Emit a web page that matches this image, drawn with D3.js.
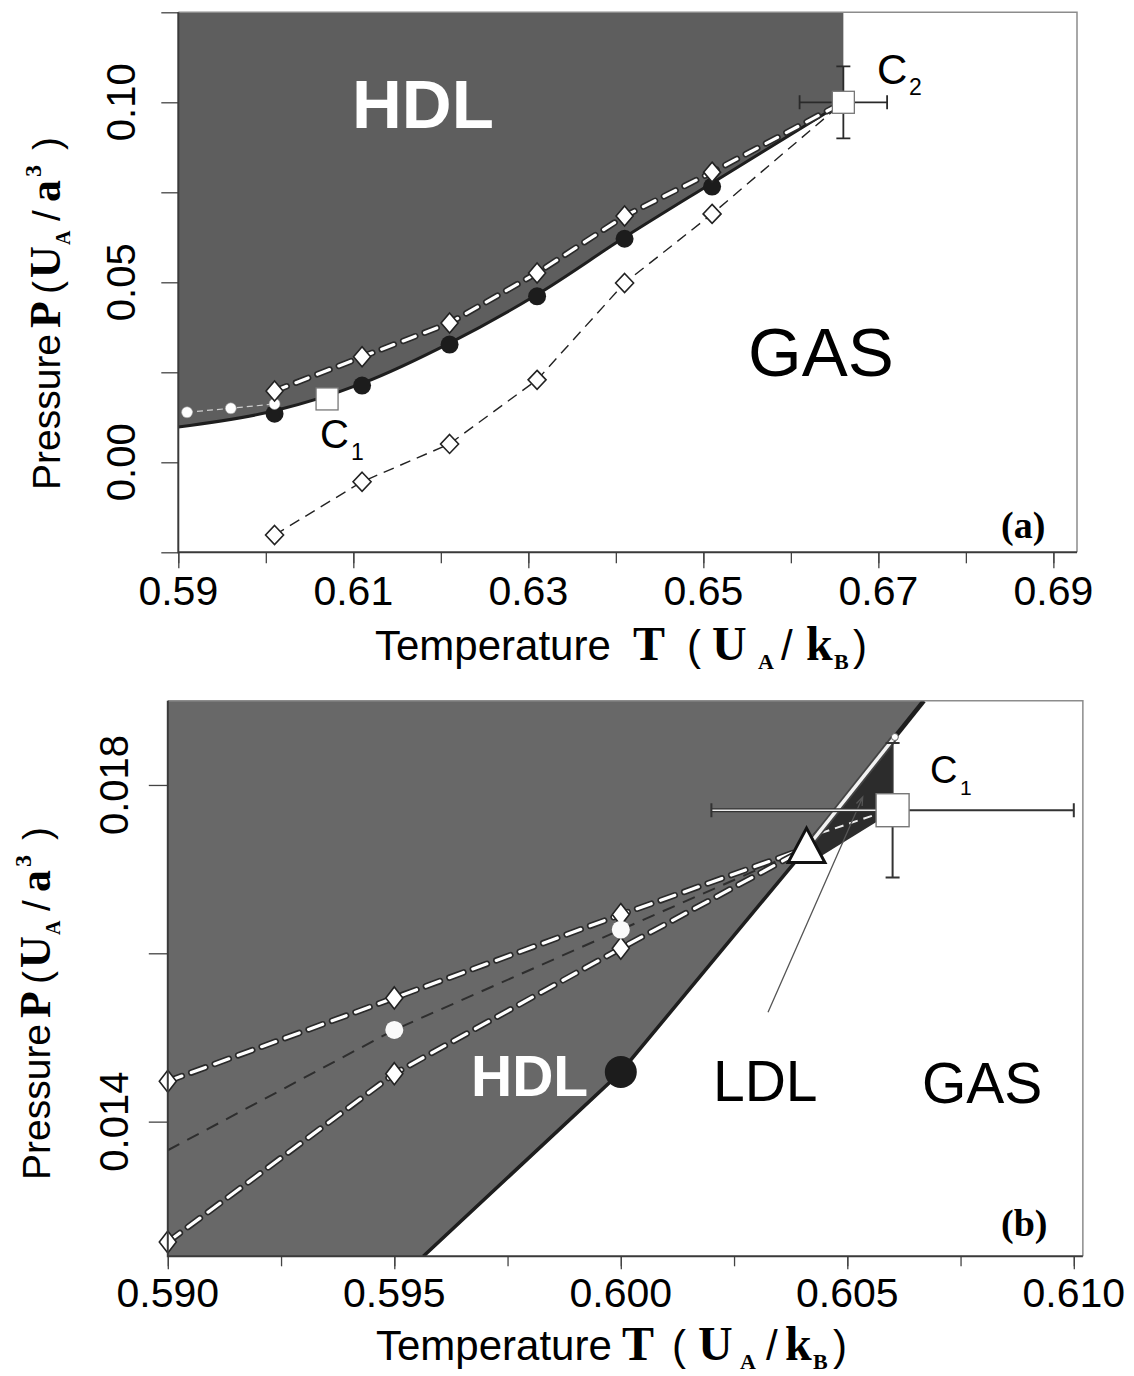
<!DOCTYPE html>
<html><head><meta charset="utf-8">
<script src="https://cdn.jsdelivr.net/npm/d3@7"></script>
<style>
html,body{margin:0;padding:0;background:#fff;}
svg{display:block;}
</style></head><body>
<svg id="chart" width="1134" height="1376"></svg>
<script>
// ---------------- DATA: panel (a) ----------------
const A_T_TICKS = [0.59,0.60,0.61,0.62,0.63,0.64,0.65,0.66,0.67,0.68,0.69];
const A_T_LABELS = [0.59,0.61,0.63,0.65,0.67,0.69];
const A_P_TICKS = [-0.025,0,0.025,0.05,0.075,0.10,0.125];
const A_P_LABELS = [0,0.05,0.10];
// HDL-gas coexistence boundary (solid line)
const A_BOUND_T = [0.590,0.601,0.611,0.621,0.631,0.641,0.651,0.666];
const A_BOUND_P = [0.0098,0.0143,0.0219,0.0331,0.0466,0.0625,0.0776,0.100];
// filled circles
const A_FILL_T = [0.601,0.611,0.621,0.631,0.641,0.651];
const A_FILL_P = [0.0135,0.0213,0.0327,0.0461,0.0621,0.0766];
// upper open diamonds (white dashed line)
const A_UP_T = [0.601,0.611,0.621,0.631,0.641,0.651];
const A_UP_P = [0.0198,0.0293,0.0387,0.0526,0.0684,0.0806];
// lower open diamonds (black dashed line)
const A_LO_T = [0.601,0.611,0.621,0.631,0.641,0.651];
const A_LO_P = [-0.0202,-0.0054,0.0051,0.0229,0.0498,0.0690];
// small open circles
const A_OC_T = [0.591,0.596,0.601];
const A_OC_P = [0.0139,0.0150,0.0162];
// critical points [T, P, dT, dP]
const A_C1 = [0.607,0.0176];
const A_C2 = [0.666,0.100,0.005,0.010];

// ---------------- DATA: panel (b) ----------------
const B_T_TICKS = [0.590,0.5925,0.595,0.5975,0.600,0.6025,0.605,0.6075,0.610];
const B_T_LABELS = [0.590,0.595,0.600,0.605,0.610];
const B_P_TICKS = [0.014,0.016,0.018];
const B_P_LABELS = [0.014,0.018];
// HDL-gas boundary (solid), continuing as HDL-LDL line above triple point
const B_BOUND_T = [0.59564,0.6000,0.6041,0.60605,0.60669];
const B_BOUND_P = [0.0124,0.01459,0.01725,0.01857,0.0190];
// triple point
const B_TRIPLE = [0.6041,0.01725];
// LDL region outline
const B_LDL_T = [0.6042,0.6060,0.6060,0.60565,0.6044];
const B_LDL_P = [0.01739,0.01851,0.01770,0.017564,0.017148];
// upper diamonds
const B_UP_T = [0.590,0.595,0.600];
const B_UP_P = [0.01448,0.01547,0.01646];
// lower diamonds
const B_LO_T = [0.590,0.595,0.600];
const B_LO_P = [0.01257,0.01457,0.01606];
// open circles on dark dashed line (line starts at the axis)
const B_MID_T = [0.590,0.595,0.600];
const B_MID_P = [0.01366,0.01509,0.01628];
// filled circle on boundary
const B_FILL = [0.600,0.01459];
// LDL-gas dashed segment to C1
const B_LG_T = [0.6041,0.6058];
const B_LG_P = [0.01737,0.01768];
// C1 critical point [T, P, dT, dP]
const B_C1 = [0.6060,0.01770,0.004,0.0008];
// LDL pointer (from label into region)
const B_PTR_T = [0.60325,0.60534];
const B_PTR_P = [0.01530,0.017857];

// ---------------- helpers ----------------
const SANS = '"Liberation Sans", Arial, Helvetica, sans-serif';
const SERIF = '"Liberation Serif", "Times New Roman", serif';
const svg = d3.select("#chart");
const zip = (a,b) => a.map((v,i)=>[v,b[i]]);
const diamond = (w,h) => `M0,${-h}L${w},0L0,${h}L${-w},0Z`;

function rich(parent, x0, y0, segs){
  const t = parent.append("text").attr("fill","#000");
  segs.forEach(s=>{
    t.append("tspan")
      .attr("x", x0 + s.dx).attr("y", y0 + (s.dy||0))
      .attr("font-family", s.serif ? SERIF : SANS)
      .attr("font-weight", s.serif || s.bold ? "bold" : "normal")
      .attr("font-size", s.size)
      .text(s.t);
  });
  return t;
}
function label(parent, x, y, str, size, opts={}){
  return parent.append("text").attr("x",x).attr("y",y)
    .attr("font-family", opts.serif?SERIF:SANS)
    .attr("font-weight", opts.bold?"bold":"normal")
    .attr("font-size", size).attr("fill", opts.fill||"#000")
    .attr("text-anchor", opts.anchor||"start")
    .text(str);
}
function dashedDouble(g, line, pts, dash){
  g.append("path").attr("d", line(pts)).attr("fill","none")
    .attr("stroke","#2a2a2a").attr("stroke-width",6.5)
    .attr("stroke-linecap","round").attr("stroke-dasharray",dash);
  g.append("path").attr("d", line(pts)).attr("fill","none")
    .attr("stroke","#fff").attr("stroke-width",3.2)
    .attr("stroke-linecap","round").attr("stroke-dasharray",dash);
}
function styleAxis(g){
  g.select(".domain").remove();
  g.selectAll(".tick line").attr("stroke","#444").attr("stroke-width",1.3);
}

// ======================= PANEL (a) =======================
const ax = d3.scaleLinear().domain([0.59,0.6927]).range([178.3,1077]);
const ay = d3.scaleLinear().domain([-0.025,0.125]).range([552.3,12.3]);
const A = svg.append("g");
A.append("clipPath").attr("id","clipA").append("rect")
  .attr("x",ax.range()[0]).attr("y",ay.range()[1])
  .attr("width",ax.range()[1]-ax.range()[0]).attr("height",ay.range()[0]-ay.range()[1]);
const Ac = A.append("g").attr("clip-path","url(#clipA)");

const aLine = d3.line().x(d=>ax(d[0])).y(d=>ay(d[1]));
const aCurve = d3.line().x(d=>ax(d[0])).y(d=>ay(d[1])).curve(d3.curveMonotoneX);
const aBound = zip(A_BOUND_T, A_BOUND_P);

// HDL gray region
Ac.append("path")
  .attr("d", d3.area().x(d=>ax(d[0])).y0(ay(0.125)).y1(d=>ay(d[1])).curve(d3.curveMonotoneX)(aBound))
  .attr("fill","#5e5e5e");

// frame
A.append("path").attr("d",`M${ax.range()[0]},${ay.range()[1]}H${ax.range()[1]}V${ay.range()[0]}`)
  .attr("fill","none").attr("stroke","#8c8c8c").attr("stroke-width",1.5);

// boundary solid line
Ac.append("path").attr("d", aCurve(aBound)).attr("fill","none")
  .attr("stroke","#1e1e1e").attr("stroke-width",3);

// faint line through small open circles
Ac.append("path").attr("d", aLine(zip(A_OC_T,A_OC_P))).attr("fill","none")
  .attr("stroke","#cfcfcf").attr("stroke-width",1.2).attr("stroke-dasharray","6,4");

// lower black dashed line
Ac.append("path").attr("d", aLine(zip(A_LO_T,A_LO_P).concat([[A_C2[0],A_C2[1]]]))).attr("fill","none")
  .attr("stroke","#222").attr("stroke-width",1.4).attr("stroke-dasharray","11,7");

// upper white double dashed line
dashedDouble(Ac, aLine, zip(A_UP_T,A_UP_P).concat([[A_C2[0],A_C2[1]]]), "13,10");

// filled circles
Ac.selectAll(".fc").data(zip(A_FILL_T,A_FILL_P)).join("circle")
  .attr("cx",d=>ax(d[0])).attr("cy",d=>ay(d[1])).attr("r",9).attr("fill","#1c1c1c");
// small open circles
Ac.selectAll(".oc").data(zip(A_OC_T,A_OC_P)).join("circle")
  .attr("cx",d=>ax(d[0])).attr("cy",d=>ay(d[1])).attr("r",5.5)
  .attr("fill","#fff").attr("stroke","#999").attr("stroke-width",0.6);
// upper diamonds
Ac.selectAll(".ud").data(zip(A_UP_T,A_UP_P)).join("path")
  .attr("transform",d=>`translate(${ax(d[0])},${ay(d[1])})`).attr("d",diamond(8.5,10))
  .attr("fill","#fff").attr("stroke","#222").attr("stroke-width",1.6);
// lower diamonds
Ac.selectAll(".ld").data(zip(A_LO_T,A_LO_P)).join("path")
  .attr("transform",d=>`translate(${ax(d[0])},${ay(d[1])})`).attr("d",diamond(9,9.5))
  .attr("fill","#fff").attr("stroke","#222").attr("stroke-width",1.6);

// C1 square
A.append("rect").attr("x",ax(A_C1[0])-11).attr("y",ay(A_C1[1])-11).attr("width",22).attr("height",22)
  .attr("fill","#fff").attr("stroke","#777").attr("stroke-width",1.3);

// C2 error bars + square
{
  const cx = ax(A_C2[0]), cy = ay(A_C2[1]);
  const x1 = ax(A_C2[0]-A_C2[2]), x2 = ax(A_C2[0]+A_C2[2]);
  const y1 = ay(A_C2[1]+A_C2[3]), y2 = ay(A_C2[1]-A_C2[3]);
  const e = A.append("g").attr("stroke","#2a2a2a").attr("stroke-width",1.8).attr("fill","none");
  e.append("path").attr("d",`M${x1},${cy}H${x2}M${x1},${cy-7}V${cy+7}M${x2},${cy-7}V${cy+7}`);
  e.append("path").attr("d",`M${cx},${y1}V${y2}M${cx-7},${y1}H${cx+7}M${cx-7},${y2}H${cx+7}`);
  A.append("rect").attr("x",cx-11).attr("y",cy-11).attr("width",22).attr("height",22)
    .attr("fill","#fff").attr("stroke","#777").attr("stroke-width",1.3);
}

// labels
label(A,352,128,"HDL",69,{bold:true,fill:"#fff"});
label(A,748,376,"GAS",69);
rich(A,320,448,[{t:"C",dx:0,size:40},{t:"1",dx:31,dy:12,size:23}]);
rich(A,877,84,[{t:"C",dx:0,size:42},{t:"2",dx:32,dy:11,size:23}]);
label(A,1001,538,"(a)",38,{serif:true,bold:true});

// axes
styleAxis(A.append("g").attr("transform",`translate(0,${ay.range()[0]})`)
  .call(d3.axisBottom(ax).tickValues(A_T_TICKS).tickSize(11).tickFormat("")));
styleAxis(A.append("g").attr("transform",`translate(0,${ay.range()[0]})`)
  .call(d3.axisBottom(ax).tickValues(A_T_LABELS).tickSize(16).tickFormat("")));
styleAxis(A.append("g").attr("transform",`translate(${ax.range()[0]},0)`)
  .call(d3.axisLeft(ay).tickValues(A_P_TICKS).tickSize(17).tickFormat("")));
A.append("path").attr("d",`M${ax.range()[0]},${ay.range()[1]}V${ay.range()[0]}H${ax.range()[1]}`)
  .attr("fill","none").attr("stroke","#3a3a3a").attr("stroke-width",2);
A.selectAll(".xl").data(A_T_LABELS).join("text")
  .attr("x",d=>ax(d)).attr("y",605).attr("text-anchor","middle")
  .attr("font-family",SANS).attr("font-size",41).text(d3.format(".2f"));
A.selectAll(".yl").data(A_P_LABELS).join("text")
  .attr("transform",d=>`translate(135,${ay(d)}) rotate(-90)`).attr("text-anchor","middle")
  .attr("font-family",SANS).attr("font-size",40).text(d3.format(".2f"));

const X_TITLE = (x0)=>[
  {t:"Temperature",dx:0,size:42},
  {t:"T",dx:x0[0],serif:true,size:48},
  {t:"(",dx:x0[1],size:42},
  {t:"U",dx:x0[2],serif:true,size:48},
  {t:"A",dx:x0[3],dy:9,serif:true,size:22},
  {t:"/",dx:x0[4],size:42},
  {t:"k",dx:x0[5],serif:true,size:48},
  {t:"B",dx:x0[6],dy:9,serif:true,size:22},
  {t:")",dx:x0[7],size:42}];
const Y_TITLE = [
  {t:"Pressure",dx:0,size:39},
  {t:"P",dx:162,serif:true,size:44},
  {t:"(",dx:196,size:39},
  {t:"U",dx:212,serif:true,size:44},
  {t:"A",dx:245,dy:10,serif:true,size:20},
  {t:"/",dx:269,size:39},
  {t:"a",dx:288,serif:true,size:44},
  {t:"3",dx:313,dy:-19,serif:true,size:24},
  {t:")",dx:340,size:39}];

rich(A,375,660,X_TITLE([258,312,337,383,406,431,459,478]));
rich(A.append("g").attr("transform","translate(60,490) rotate(-90)"),0,0,Y_TITLE);

// ======================= PANEL (b) =======================
const bx = d3.scaleLinear().domain([0.59,0.6102]).range([167.8,167.8+0.0202*45300]);
const by = d3.scaleLinear().domain([0.0124,0.0190]).range([1256.3,1256.3-0.0066*84167]);
const B = svg.append("g");
B.append("clipPath").attr("id","clipB").append("rect")
  .attr("x",bx.range()[0]).attr("y",by.range()[1])
  .attr("width",bx.range()[1]-bx.range()[0]).attr("height",by.range()[0]-by.range()[1]);
const Bc = B.append("g").attr("clip-path","url(#clipB)");
const bLine = d3.line().x(d=>bx(d[0])).y(d=>by(d[1]));
const bBound = zip(B_BOUND_T,B_BOUND_P);

// HDL gray region
Bc.append("path")
  .attr("d", bLine([[0.59,0.0124]].concat(bBound,[[0.59,0.0190]]))+"Z")
  .attr("fill","#686868");
// LDL dark region
Bc.append("path").attr("d", bLine(zip(B_LDL_T,B_LDL_P))+"Z").attr("fill","#2c2c2c");

// frame
B.append("path").attr("d",`M${bx.range()[0]},${by.range()[1]}H${bx.range()[1]}V${by.range()[0]}`)
  .attr("fill","none").attr("stroke","#8c8c8c").attr("stroke-width",1.5);

// middle dark dashed line
Bc.append("path").attr("d", bLine(zip(B_MID_T,B_MID_P).concat([B_TRIPLE]))).attr("fill","none")
  .attr("stroke","#2e2e2e").attr("stroke-width",2).attr("stroke-dasharray","13,9");
// upper & lower white double dashed lines
dashedDouble(Bc, bLine, zip(B_UP_T,B_UP_P).concat([B_TRIPLE]), "15,10");
dashedDouble(Bc, bLine, zip(B_LO_T,B_LO_P).concat([B_TRIPLE]), "15,10");
// LDL-gas dashed
Bc.append("path").attr("d", bLine(zip(B_LG_T,B_LG_P))).attr("fill","none")
  .attr("stroke","#eee").attr("stroke-width",2).attr("stroke-dasharray","9,6");

// boundary lines
Bc.append("path").attr("d", bLine(bBound.slice(0,3))).attr("fill","none")
  .attr("stroke","#1e1e1e").attr("stroke-width",3.5);
Bc.append("path").attr("d", bLine(bBound.slice(3))).attr("fill","none")
  .attr("stroke","#1e1e1e").attr("stroke-width",4.5);
Bc.append("path").attr("d", bLine(bBound.slice(2,4))).attr("fill","none")
  .attr("stroke","#444").attr("stroke-width",7);
Bc.append("path").attr("d", bLine(bBound.slice(2,4))).attr("fill","none")
  .attr("stroke","#f2f2f2").attr("stroke-width",3.5);
B.append("circle").attr("cx",bx(B_BOUND_T[3])).attr("cy",by(B_BOUND_P[3])).attr("r",3.5)
  .attr("fill","#fff").attr("stroke","#666").attr("stroke-width",1);

// filled circle
B.append("circle").attr("cx",bx(B_FILL[0])).attr("cy",by(B_FILL[1])).attr("r",16).attr("fill","#1c1c1c");
// diamonds
B.selectAll(".bd").data(zip(B_UP_T,B_UP_P).concat(zip(B_LO_T,B_LO_P))).join("path")
  .attr("transform",d=>`translate(${bx(d[0])},${by(d[1])})`).attr("d",diamond(8.5,11))
  .attr("fill","#fff").attr("stroke","#222").attr("stroke-width",1.6);
// open circles
B.selectAll(".bo").data(zip(B_MID_T,B_MID_P).slice(1)).join("circle")
  .attr("cx",d=>bx(d[0])).attr("cy",d=>by(d[1])).attr("r",9).attr("fill","#fafafa");

// LDL pointer
{
  const x1=bx(B_PTR_T[0]), y1=by(B_PTR_P[0]), x2=bx(B_PTR_T[1]), y2=by(B_PTR_P[1]);
  const ang=Math.atan2(y2-y1,x2-x1), L=9;
  B.append("path").attr("d",`M${x1},${y1}L${x2},${y2}`+
    `M${x2-L*Math.cos(ang-0.35)},${y2-L*Math.sin(ang-0.35)}L${x2},${y2}L${x2-L*Math.cos(ang+0.35)},${y2-L*Math.sin(ang+0.35)}`)
    .attr("fill","none").attr("stroke","#555").attr("stroke-width",1.3);
}

// C1 error bars + square
{
  const cx=bx(B_C1[0]), cy=by(B_C1[1]);
  const x1=bx(B_C1[0]-B_C1[2]), x2=bx(B_C1[0]+B_C1[2]);
  const y1=by(B_C1[1]+B_C1[3]), y2=by(B_C1[1]-B_C1[3]);
  const e=B.append("g").attr("fill","none");
  e.append("path").attr("d",`M${x1},${cy}H${cx}`).attr("stroke","#333").attr("stroke-width",4);
  e.append("path").attr("d",`M${x1},${cy}H${cx}`).attr("stroke","#eee").attr("stroke-width",1.6);
  e.append("path").attr("d",`M${cx},${cy}H${x2}M${x1},${cy-7}V${cy+7}M${x2},${cy-7}V${cy+7}`)
    .attr("stroke","#333").attr("stroke-width",2);
  e.append("path").attr("d",`M${cx},${y1}V${y2}M${cx-7},${y1}H${cx+7}M${cx-7},${y2}H${cx+7}`)
    .attr("stroke","#333").attr("stroke-width",2);
  B.append("rect").attr("x",cx-16.5).attr("y",cy-16.5).attr("width",33).attr("height",33)
    .attr("fill","#fff").attr("stroke","#777").attr("stroke-width",1.4);
}
// triple point triangle
{
  const cx=bx(B_TRIPLE[0]), cy=by(B_TRIPLE[1])+3, s=11.5;
  B.append("path").attr("d",`M${cx},${cy-2*s}L${cx+1.6*s},${cy+s}L${cx-1.6*s},${cy+s}Z`)
    .attr("fill","#fff").attr("stroke","#111").attr("stroke-width",3).attr("stroke-linejoin","miter");
}

// labels
label(B,471,1096,"HDL",57,{bold:true,fill:"#fff"});
label(B,713,1101,"LDL",57);
label(B,922,1103,"GAS",57);
rich(B,930,783,[{t:"C",dx:0,size:38},{t:"1",dx:30,dy:12,size:21}]);
label(B,1001,1236,"(b)",38,{serif:true,bold:true});

// axes
styleAxis(B.append("g").attr("transform",`translate(0,${by.range()[0]})`)
  .call(d3.axisBottom(bx).tickValues(B_T_TICKS).tickSize(10).tickFormat("")));
styleAxis(B.append("g").attr("transform",`translate(0,${by.range()[0]})`)
  .call(d3.axisBottom(bx).tickValues(B_T_LABELS).tickSize(13).tickFormat("")));
styleAxis(B.append("g").attr("transform",`translate(${bx.range()[0]},0)`)
  .call(d3.axisLeft(by).tickValues(B_P_TICKS).tickSize(19).tickFormat("")));
B.append("path").attr("d",`M${bx.range()[0]},${by.range()[1]}V${by.range()[0]}H${bx.range()[1]}`)
  .attr("fill","none").attr("stroke","#3a3a3a").attr("stroke-width",2);
B.selectAll(".xl").data(B_T_LABELS).join("text")
  .attr("x",d=>bx(d)).attr("y",1307).attr("text-anchor","middle")
  .attr("font-family",SANS).attr("font-size",41).text(d3.format(".3f"));
B.selectAll(".yl").data(B_P_LABELS).join("text")
  .attr("transform",d=>`translate(128,${by(d)}) rotate(-90)`).attr("text-anchor","middle")
  .attr("font-family",SANS).attr("font-size",40).text(d3.format(".3f"));

rich(B,376,1360,X_TITLE([246,296,322,364,390,409,437,457]));
rich(B.append("g").attr("transform","translate(50,1180) rotate(-90)"),0,0,Y_TITLE);
</script></body></html>
